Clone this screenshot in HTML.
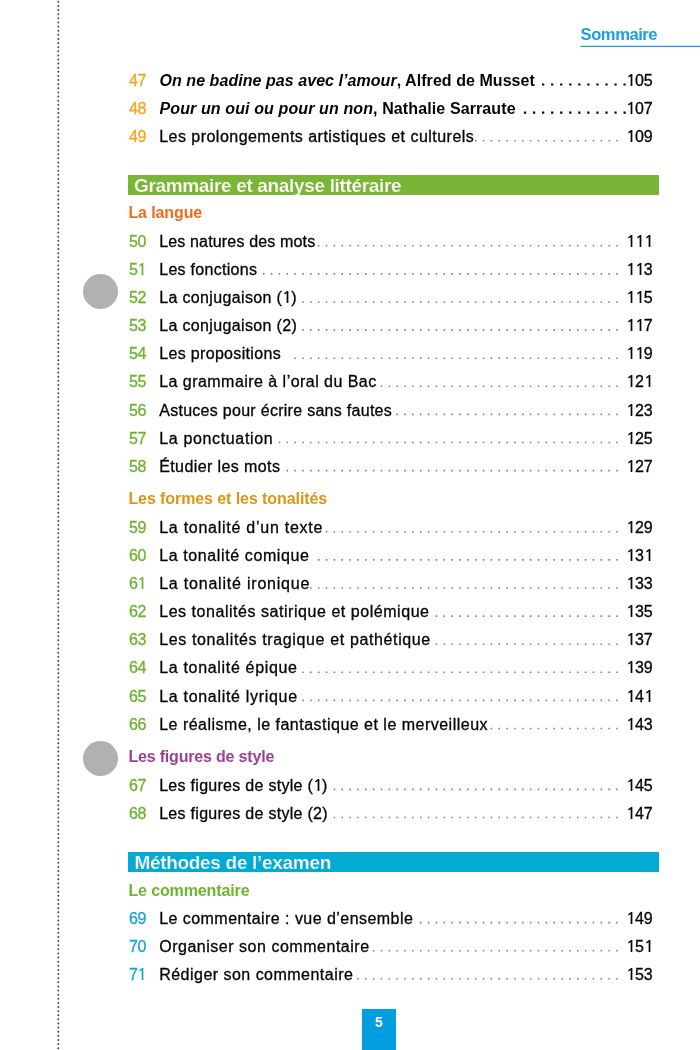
<!DOCTYPE html>
<html><head><meta charset="utf-8"><title>Sommaire</title>
<style>
html,body{margin:0;padding:0;background:#fff;}
body{width:700px;height:1050px;position:relative;overflow:hidden;will-change:transform;font-family:"Liberation Sans",sans-serif;color:#050505;}
.a{position:absolute;white-space:nowrap;}
.r{position:absolute;left:0;width:700px;height:24px;font-size:16px;line-height:24px;white-space:nowrap;}
.n{position:absolute;left:129px;top:0;letter-spacing:-0.5px;-webkit-text-stroke:0.3px;}
.t{position:absolute;left:159.2px;top:0;-webkit-text-stroke:0.3px #050505;}
.b .t{font-weight:bold;left:159.5px;-webkit-text-stroke:0;}
.p{position:absolute;right:47.3px;top:0;text-align:right;-webkit-text-stroke:0.3px #050505;}
.bar{position:absolute;left:127.8px;width:531.5px;height:20px;color:#fff;font-weight:bold;font-size:19px;line-height:20px;white-space:nowrap;}
.bar span{position:absolute;top:0;}
.sub{position:absolute;left:128.4px;font-weight:bold;font-size:16px;line-height:20px;white-space:nowrap;}
.o{width:8.9px;height:12.1px;fill:currentColor;vertical-align:baseline;display:inline-block;}
.c{position:absolute;width:35px;height:35px;border-radius:50%;background:#b1b1b1;}
</style></head><body>

<svg class="a" style="left:0;top:0" width="700" height="1050" viewBox="0 0 700 1050">
<line x1="58.3" y1="1.83" x2="58.3" y2="1052" stroke="#4a4a4a" stroke-width="2" stroke-linecap="round" stroke-dasharray="0 4.1196"/>
<line x1="580.5" y1="46.3" x2="700" y2="46.3" stroke="#1a9fe0" stroke-width="1.3"/>
<line x1="542.05" y1="84.50" x2="626.10" y2="84.50" stroke="#050505" stroke-width="2.2" stroke-dasharray="2.2 6.8500000000000005"/>
<line x1="523.95" y1="112.60" x2="626.10" y2="112.60" stroke="#050505" stroke-width="2.2" stroke-dasharray="2.2 6.8500000000000005"/>
<line x1="474.95" y1="140.75" x2="618.00" y2="140.75" stroke="#7d7d7d" stroke-width="1.6" stroke-dasharray="1.5 6.35"/>
<line x1="317.95" y1="245.80" x2="618.00" y2="245.80" stroke="#7d7d7d" stroke-width="1.6" stroke-dasharray="1.5 6.35"/>
<line x1="263.00" y1="273.90" x2="618.00" y2="273.90" stroke="#7d7d7d" stroke-width="1.6" stroke-dasharray="1.5 6.35"/>
<line x1="302.25" y1="302.00" x2="618.00" y2="302.00" stroke="#7d7d7d" stroke-width="1.6" stroke-dasharray="1.5 6.35"/>
<line x1="302.25" y1="330.10" x2="618.00" y2="330.10" stroke="#7d7d7d" stroke-width="1.6" stroke-dasharray="1.5 6.35"/>
<line x1="294.40" y1="358.20" x2="618.00" y2="358.20" stroke="#7d7d7d" stroke-width="1.6" stroke-dasharray="1.5 6.35"/>
<line x1="380.75" y1="386.30" x2="618.00" y2="386.30" stroke="#7d7d7d" stroke-width="1.6" stroke-dasharray="1.5 6.35"/>
<line x1="396.45" y1="414.40" x2="618.00" y2="414.40" stroke="#7d7d7d" stroke-width="1.6" stroke-dasharray="1.5 6.35"/>
<line x1="278.70" y1="442.50" x2="618.00" y2="442.50" stroke="#7d7d7d" stroke-width="1.6" stroke-dasharray="1.5 6.35"/>
<line x1="286.55" y1="470.60" x2="618.00" y2="470.60" stroke="#7d7d7d" stroke-width="1.6" stroke-dasharray="1.5 6.35"/>
<line x1="325.80" y1="531.80" x2="618.00" y2="531.80" stroke="#7d7d7d" stroke-width="1.6" stroke-dasharray="1.5 6.35"/>
<line x1="317.95" y1="559.90" x2="618.00" y2="559.90" stroke="#7d7d7d" stroke-width="1.6" stroke-dasharray="1.5 6.35"/>
<line x1="310.10" y1="588.00" x2="618.00" y2="588.00" stroke="#7d7d7d" stroke-width="1.6" stroke-dasharray="1.5 6.35"/>
<line x1="435.70" y1="616.10" x2="618.00" y2="616.10" stroke="#7d7d7d" stroke-width="1.6" stroke-dasharray="1.5 6.35"/>
<line x1="435.70" y1="644.20" x2="618.00" y2="644.20" stroke="#7d7d7d" stroke-width="1.6" stroke-dasharray="1.5 6.35"/>
<line x1="302.25" y1="672.30" x2="618.00" y2="672.30" stroke="#7d7d7d" stroke-width="1.6" stroke-dasharray="1.5 6.35"/>
<line x1="302.25" y1="700.40" x2="618.00" y2="700.40" stroke="#7d7d7d" stroke-width="1.6" stroke-dasharray="1.5 6.35"/>
<line x1="490.65" y1="728.50" x2="618.00" y2="728.50" stroke="#7d7d7d" stroke-width="1.6" stroke-dasharray="1.5 6.35"/>
<line x1="333.65" y1="789.40" x2="618.00" y2="789.40" stroke="#7d7d7d" stroke-width="1.6" stroke-dasharray="1.5 6.35"/>
<line x1="333.65" y1="817.50" x2="618.00" y2="817.50" stroke="#7d7d7d" stroke-width="1.6" stroke-dasharray="1.5 6.35"/>
<line x1="420.00" y1="922.60" x2="618.00" y2="922.60" stroke="#7d7d7d" stroke-width="1.6" stroke-dasharray="1.5 6.35"/>
<line x1="372.90" y1="950.70" x2="618.00" y2="950.70" stroke="#7d7d7d" stroke-width="1.6" stroke-dasharray="1.5 6.35"/>
<line x1="357.20" y1="978.80" x2="618.00" y2="978.80" stroke="#7d7d7d" stroke-width="1.6" stroke-dasharray="1.5 6.35"/>
<symbol id="o1" viewBox="0 0 8.9 12.3"><path d="M6.4,0 L6.4,12.1 L4.65,12.1 L4.65,2.15 L2.75,3.5 L2.05,2.3 L5.1,0 Z"/></symbol>
</svg>
<div class="a" id="som" style="left:580.6px;top:25.00px;font-size:16.6px;line-height:20px;font-weight:bold;color:#1a9fe0;letter-spacing:-0.462px">Sommaire</div>
<div class="c" style="left:82.9px;top:273.9px"></div>
<div class="c" style="left:82.9px;top:740.7px"></div>
<div class="bar" style="top:174.7px;height:20.2px;background:#7bb537;-webkit-text-stroke:0.2px #7bb537"><span id="bar1" style="left:6.2px;top:1.30px;letter-spacing:-0.34px">Grammaire et analyse littéraire</span></div>
<div class="bar" style="top:852px;background:#03aad3;height:20.4px;-webkit-text-stroke:0.2px #03aad3"><span id="bar2" style="left:6.6px;top:1.00px;letter-spacing:-0.306px">Méthodes de l’examen</span></div>
<div class="sub" id="s1" style="top:203.00px;color:#f26a1b;letter-spacing:-0.1px">La langue</div>
<div class="sub" id="s2" style="top:489.00px;color:#dd9614;letter-spacing:-0.082px">Les formes et les tonalités</div>
<div class="sub" id="s3" style="top:747.00px;color:#9c4095;letter-spacing:-0.184px">Les figures de style</div>
<div class="sub" id="s4" style="top:881.00px;color:#6db52c;letter-spacing:-0.12px">Le commentaire</div>
<div class="a" style="left:362.4px;top:1009.2px;width:33.2px;height:41px;background:#029ee0;"></div>
<div class="a" style="left:362.3px;width:33.4px;top:1012.00px;color:#fff;font-weight:bold;font-size:14px;line-height:20px;text-align:center;">5</div>

<div class="r b" style="top:69.00px"><span class="n" style="color:#f8a41a">47</span><span class="t" id="t47" style="letter-spacing:0.054px"><i>On ne badine pas avec l’amour</i>, Alfred de Musset</span><span class="p"><svg class="o"><use href="#o1"/></svg>05</span></div>
<div class="r b" style="top:97.00px"><span class="n" style="color:#f8a41a">48</span><span class="t" id="t48" style="letter-spacing:0.113px"><i>Pour un oui ou pour un non</i>, Nathalie Sarraute</span><span class="p"><svg class="o"><use href="#o1"/></svg>07</span></div>
<div class="r" style="top:125.00px"><span class="n" style="color:#f8a41a">49</span><span class="t" id="t49" style="letter-spacing:0.472px">Les prolongements artistiques et culturels</span><span class="p"><svg class="o"><use href="#o1"/></svg>09</span></div>
<div class="r" style="top:230.00px"><span class="n" style="color:#6ab42d">50</span><span class="t" id="t50" style="letter-spacing:0.158px">Les natures des mots</span><span class="p"><svg class="o"><use href="#o1"/></svg><svg class="o"><use href="#o1"/></svg><svg class="o"><use href="#o1"/></svg></span></div>
<div class="r" style="top:258.00px"><span class="n" style="color:#6ab42d">5<svg class="o"><use href="#o1"/></svg></span><span class="t" id="t51" style="letter-spacing:0.292px">Les fonctions</span><span class="p"><svg class="o"><use href="#o1"/></svg><svg class="o"><use href="#o1"/></svg>3</span></div>
<div class="r" style="top:286.00px"><span class="n" style="color:#6ab42d">52</span><span class="t" id="t52" style="letter-spacing:0.353px">La conjugaison (<svg class="o"><use href="#o1"/></svg>)</span><span class="p"><svg class="o"><use href="#o1"/></svg><svg class="o"><use href="#o1"/></svg>5</span></div>
<div class="r" style="top:314.00px"><span class="n" style="color:#6ab42d">53</span><span class="t" id="t53" style="letter-spacing:0.353px">La conjugaison (2)</span><span class="p"><svg class="o"><use href="#o1"/></svg><svg class="o"><use href="#o1"/></svg>7</span></div>
<div class="r" style="top:342.00px"><span class="n" style="color:#6ab42d">54</span><span class="t" id="t54" style="letter-spacing:0.333px">Les propositions</span><span class="p"><svg class="o"><use href="#o1"/></svg><svg class="o"><use href="#o1"/></svg>9</span></div>
<div class="r" style="top:370.00px"><span class="n" style="color:#6ab42d">55</span><span class="t" id="t55" style="letter-spacing:0.462px">La grammaire à l’oral du Bac</span><span class="p"><svg class="o"><use href="#o1"/></svg>2<svg class="o"><use href="#o1"/></svg></span></div>
<div class="r" style="top:399.00px"><span class="n" style="color:#6ab42d">56</span><span class="t" id="t56" style="letter-spacing:0.283px">Astuces pour écrire sans fautes</span><span class="p"><svg class="o"><use href="#o1"/></svg>23</span></div>
<div class="r" style="top:427.00px"><span class="n" style="color:#6ab42d">57</span><span class="t" id="t57" style="letter-spacing:0.655px">La ponctuation</span><span class="p"><svg class="o"><use href="#o1"/></svg>25</span></div>
<div class="r" style="top:455.00px"><span class="n" style="color:#6ab42d">58</span><span class="t" id="t58" style="letter-spacing:0.4px">Étudier les mots</span><span class="p"><svg class="o"><use href="#o1"/></svg>27</span></div>
<div class="r" style="top:516.00px"><span class="n" style="color:#6ab42d">59</span><span class="t" id="t59" style="letter-spacing:0.738px">La tonalité d’un texte</span><span class="p"><svg class="o"><use href="#o1"/></svg>29</span></div>
<div class="r" style="top:544.00px"><span class="n" style="color:#6ab42d">60</span><span class="t" id="t60" style="letter-spacing:0.611px">La tonalité comique</span><span class="p"><svg class="o"><use href="#o1"/></svg>3<svg class="o"><use href="#o1"/></svg></span></div>
<div class="r" style="top:572.00px"><span class="n" style="color:#6ab42d">6<svg class="o"><use href="#o1"/></svg></span><span class="t" id="t61" style="letter-spacing:0.789px">La tonalité ironique</span><span class="p"><svg class="o"><use href="#o1"/></svg>33</span></div>
<div class="r" style="top:600.00px"><span class="n" style="color:#6ab42d">62</span><span class="t" id="t62" style="letter-spacing:0.542px">Les tonalités satirique et polémique</span><span class="p"><svg class="o"><use href="#o1"/></svg>35</span></div>
<div class="r" style="top:628.00px"><span class="n" style="color:#6ab42d">63</span><span class="t" id="t63" style="letter-spacing:0.629px">Les tonalités tragique et pathétique</span><span class="p"><svg class="o"><use href="#o1"/></svg>37</span></div>
<div class="r" style="top:656.00px"><span class="n" style="color:#6ab42d">64</span><span class="t" id="t64" style="letter-spacing:0.676px">La tonalité épique</span><span class="p"><svg class="o"><use href="#o1"/></svg>39</span></div>
<div class="r" style="top:685.00px"><span class="n" style="color:#6ab42d">65</span><span class="t" id="t65" style="letter-spacing:0.694px">La tonalité lyrique</span><span class="p"><svg class="o"><use href="#o1"/></svg>4<svg class="o"><use href="#o1"/></svg></span></div>
<div class="r" style="top:713.00px"><span class="n" style="color:#6ab42d">66</span><span class="t" id="t66" style="letter-spacing:0.489px">Le réalisme, le fantastique et le merveilleux</span><span class="p"><svg class="o"><use href="#o1"/></svg>43</span></div>
<div class="r" style="top:774.00px"><span class="n" style="color:#6ab42d">67</span><span class="t" id="t67" style="letter-spacing:0.283px">Les figures de style (<svg class="o"><use href="#o1"/></svg>)</span><span class="p"><svg class="o"><use href="#o1"/></svg>45</span></div>
<div class="r" style="top:802.00px"><span class="n" style="color:#6ab42d">68</span><span class="t" id="t68" style="letter-spacing:0.283px">Les figures de style (2)</span><span class="p"><svg class="o"><use href="#o1"/></svg>47</span></div>
<div class="r" style="top:907.00px"><span class="n" style="color:#19a3dc">69</span><span class="t" id="t69" style="letter-spacing:0.45px">Le commentaire : vue d’ensemble</span><span class="p"><svg class="o"><use href="#o1"/></svg>49</span></div>
<div class="r" style="top:935.00px"><span class="n" style="color:#19a3dc">70</span><span class="t" id="t70" style="letter-spacing:0.521px">Organiser son commentaire</span><span class="p"><svg class="o"><use href="#o1"/></svg>5<svg class="o"><use href="#o1"/></svg></span></div>
<div class="r" style="top:963.00px"><span class="n" style="color:#19a3dc">7<svg class="o"><use href="#o1"/></svg></span><span class="t" id="t71" style="letter-spacing:0.477px">Rédiger son commentaire</span><span class="p"><svg class="o"><use href="#o1"/></svg>53</span></div>
</body></html>
